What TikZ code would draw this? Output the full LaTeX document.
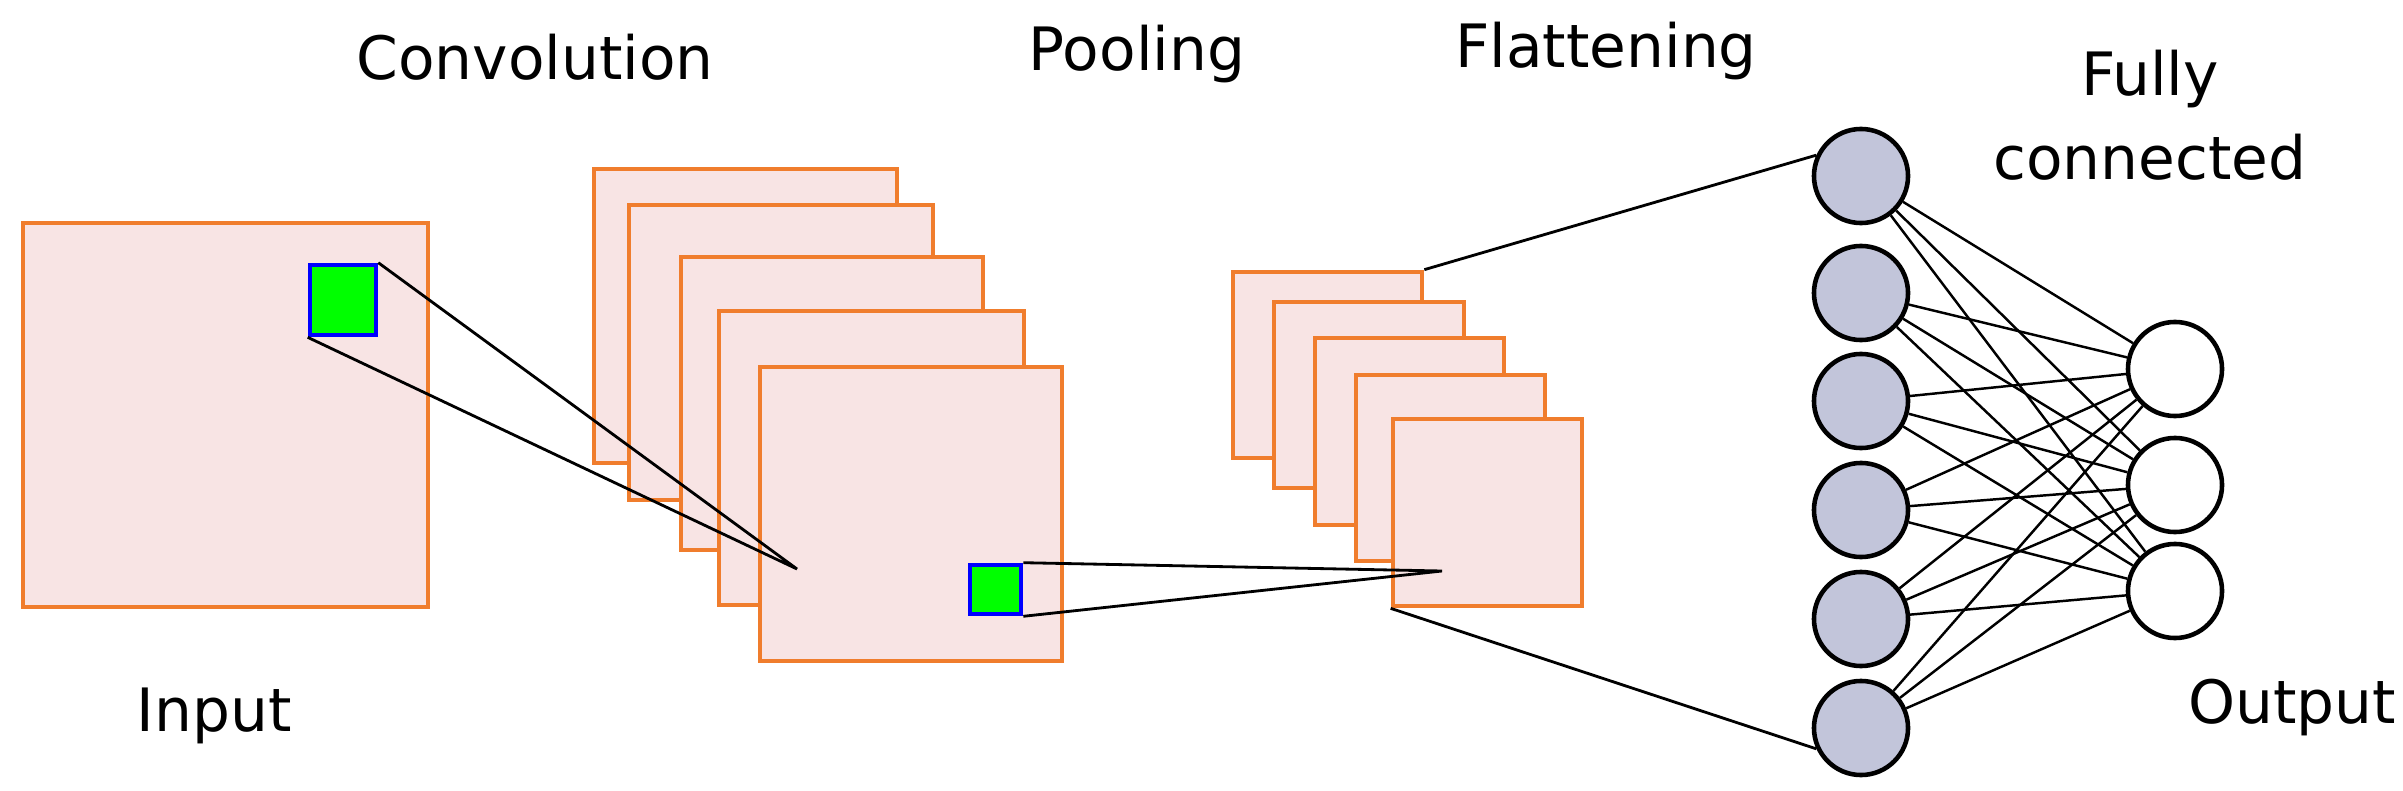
\documentclass[tikz,border=0pt]{standalone}
\usepackage{fontspec}
\setmainfont{DejaVu Sans}
\usetikzlibrary{positioning}
\definecolor{frameorange}{RGB}{240,125,45}
\definecolor{framefill}{RGB}{248,228,228}
\definecolor{nodefill}{RGB}{194,197,218}
\tikzset{
  fmap/.style={draw=frameorange, fill=framefill, line width=1.3pt, inner sep=0pt},
  kernel/.style={draw=blue, fill=green, line width=1.3pt, inner sep=0pt},
  neuron/.style={circle, draw, line width=1.3pt, minimum size=0.94cm, inner sep=0pt},
  caption/.style={font=\fontsize{17}{24}\selectfont}
}
\begin{document}
\begin{tikzpicture}[x=0.01cm, y=-0.01cm]
  \useasboundingbox (0,0) rectangle (2403,791);
  % input
  \node[fmap, minimum width=4.05cm, minimum height=3.84cm] (in) at (225.5,415) {};
  \node[kernel, minimum width=0.66cm, minimum height=0.7cm] (k1) at (343,300) {};
  % convolution stack
  \node[fmap, minimum width=3.03cm, minimum height=2.94cm] (c1) at (745.5,316) {};
  \node[fmap, minimum width=3.04cm, minimum height=2.95cm] (c2) at (781,352.5) {};
  \node[fmap, minimum width=3.02cm, minimum height=2.93cm] (c3) at (832,403.5) {};
  \node[fmap, minimum width=3.05cm, minimum height=2.94cm] (c4) at (871.5,458) {};
  \node[fmap, minimum width=3.02cm, minimum height=2.94cm] (c5) at (911,514) {};
  \node[kernel, minimum width=0.51cm, minimum height=0.49cm] (k2) at (995.5,589.5) {};
  \coordinate (cpt) at (797,569);
  % pooling stack
  \node[fmap, minimum width=1.89cm, minimum height=1.86cm] (p1) at (1327.5,365) {};
  \node[fmap, minimum width=1.9cm, minimum height=1.86cm] (p2) at (1369,395) {};
  \node[fmap, minimum width=1.89cm, minimum height=1.87cm] (p3) at (1409.5,431.5) {};
  \node[fmap, minimum width=1.89cm, minimum height=1.86cm] (p4) at (1450.5,468) {};
  \node[fmap, minimum width=1.89cm, minimum height=1.87cm] (p5) at (1487.5,512.5) {};
  \coordinate (ppt) at (1442,571);
  % neurons
  \foreach \i/\y in {1/176,2/293,3/401,4/510,5/619,6/728}
    \node[neuron, fill=nodefill] (h\i) at (1861,\y) {};
  \foreach \j/\y in {1/369,2/485,3/591}
    \node[neuron, fill=white] (o\j) at (2175,\y) {};
  % connectors
  \draw[line width=0.8pt] (k1.north east) -- (cpt) -- (k1.south west);
  \draw[line width=0.8pt] (k2.north east) -- (ppt) -- (k2.south east);
  \draw[line width=0.8pt] (p1.north east) -- (h1.155);
  \draw[line width=0.8pt] (p5.south west) -- (h6.205);
  \foreach \i in {1,...,6}
    \foreach \j in {1,2,3}
      \draw[line width=0.7pt] (h\i) -- (o\j);
  % labels
  \node[caption] (tin) at (214,716) {Input};
  \node[caption] (tconv) at (535,57) {Convolution};
  \node[caption] (tpool) at (1137,54) {Pooling};
  \node[caption] (tflat) at (1606,51) {Flattening};
  \node[caption, align=center] (tfc) at (2150,115) {Fully\\connected};
  \node[caption] (tout) at (2292,708) {Output};
\end{tikzpicture}
\end{document}
